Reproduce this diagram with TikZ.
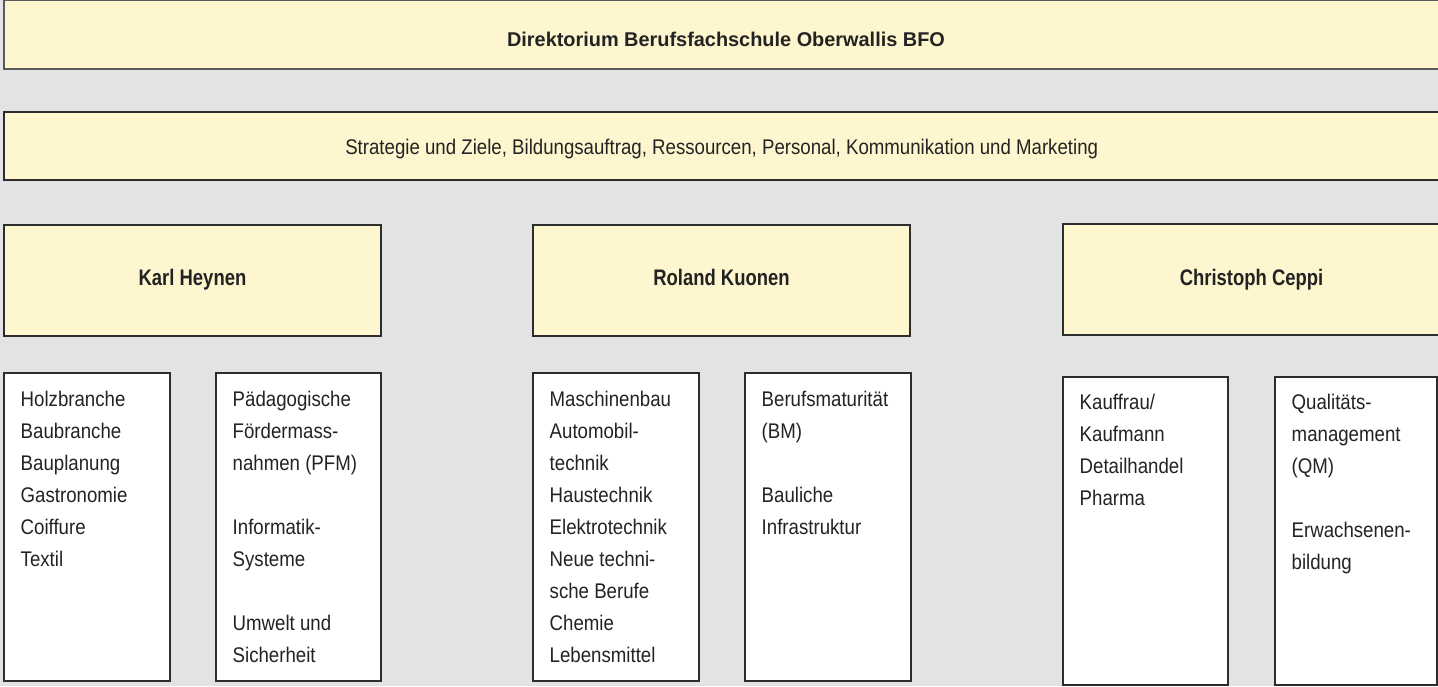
\documentclass[tikz,border=0pt]{standalone}
\usepackage{fontspec}
\setmainfont{Liberation Sans}
\newfontfamily\regf{Liberation Sans}[FakeStretch=0.88]
\newfontfamily\namef{Liberation Sans Bold}[FakeStretch=0.82]
\newfontfamily\titlef{Liberation Sans Bold}
\definecolor{bgc}{RGB}{226,227,229}
\definecolor{ylw}{RGB}{253,246,206}
\definecolor{bdr}{RGB}{45,45,45}
\definecolor{bdrl}{RGB}{90,90,90}
\definecolor{txt}{RGB}{35,35,35}
\tikzset{
  ybox/.style={draw=bdr, line width=1.3pt, fill=ylw},
  wbox/.style={draw=bdr, line width=1.3pt, fill=white},
  lbl/.style={inner sep=0pt, text=txt, anchor=base},
  listtxt/.style={inner sep=0pt, text=txt, anchor=north west, align=left,
    font=\regf\fontsize{21.2}{31.9}\selectfont},
}
\newcommand{\fl}{\rule{0pt}{20pt}}
\begin{document}
\begin{tikzpicture}[x=1pt,y=-1pt]
\fill[bgc] (0,0) rectangle (1438,686);
\useasboundingbox (0,0) rectangle (1438,686);
\clip (0,0) rectangle (1438,686);
% yellow boxes
\draw[ybox, draw=bdrl] (4,0.7) rectangle (1448,69);
\draw[ybox] (4,112) rectangle (1448,180);
\draw[ybox] (4,225) rectangle (381,336);
\draw[ybox] (533,225) rectangle (910,336);
\draw[ybox] (1063,224) rectangle (1448,335);
% white boxes
\draw[wbox] (4,373) rectangle (170,681);
\draw[wbox] (216,373) rectangle (381,681);
\draw[wbox] (533,373) rectangle (699,681);
\draw[wbox] (745,373) rectangle (911,681);
\draw[wbox] (1063,377) rectangle (1228,685);
\draw[wbox] (1275,377) rectangle (1437,685);
% texts
\node[lbl, font=\titlef\fontsize{19.9}{24}\selectfont] (title) at (726,46) {Direktorium Berufsfachschule Oberwallis BFO};
\node[lbl, font=\regf\fontsize{21.2}{26}\selectfont] (strat) at (721.7,154.7) {Strategie und Ziele, Bildungsauftrag, Ressourcen, Personal, Kommunikation und Marketing};
\node[lbl, font=\namef\fontsize{22.5}{26}\selectfont] (karl) at (192.5,285) {Karl Heynen};
\node[lbl, font=\namef\fontsize{22.5}{26}\selectfont] (roland) at (721.5,285) {Roland Kuonen};
\node[lbl, font=\namef\fontsize{22.5}{26}\selectfont] (ceppi) at (1251.5,285) {Christoph Ceppi};
\node[listtxt] (l1) at (20.5,386.7) {\fl Holzbranche\\Baubranche\\Bauplanung\\Gastronomie\\Coiffure\\Textil};
\node[listtxt] (l2) at (232.5,386.7) {\fl Pädagogische\\Fördermass-\\nahmen (PFM)\\[31.9pt]Informatik-\\Systeme\\[31.9pt]Umwelt und\\Sicherheit};
\node[listtxt] (l3) at (549.5,386.7) {\fl Maschinenbau\\Automobil-\\technik\\Haustechnik\\Elektrotechnik\\Neue techni-\\sche Berufe\\Chemie\\Lebensmittel};
\node[listtxt] (l4) at (761.5,386.7) {\fl Berufsmaturität\\(BM)\\[31.9pt]Bauliche\\Infrastruktur};
\node[listtxt] (l5) at (1079.5,389.5) {\fl Kauffrau/\\Kaufmann\\Detailhandel\\Pharma};
\node[listtxt] (l6) at (1291.5,389.5) {\fl Qualitäts-\\management\\(QM)\\[31.9pt]Erwachsenen-\\bildung};
\end{tikzpicture}
\end{document}
